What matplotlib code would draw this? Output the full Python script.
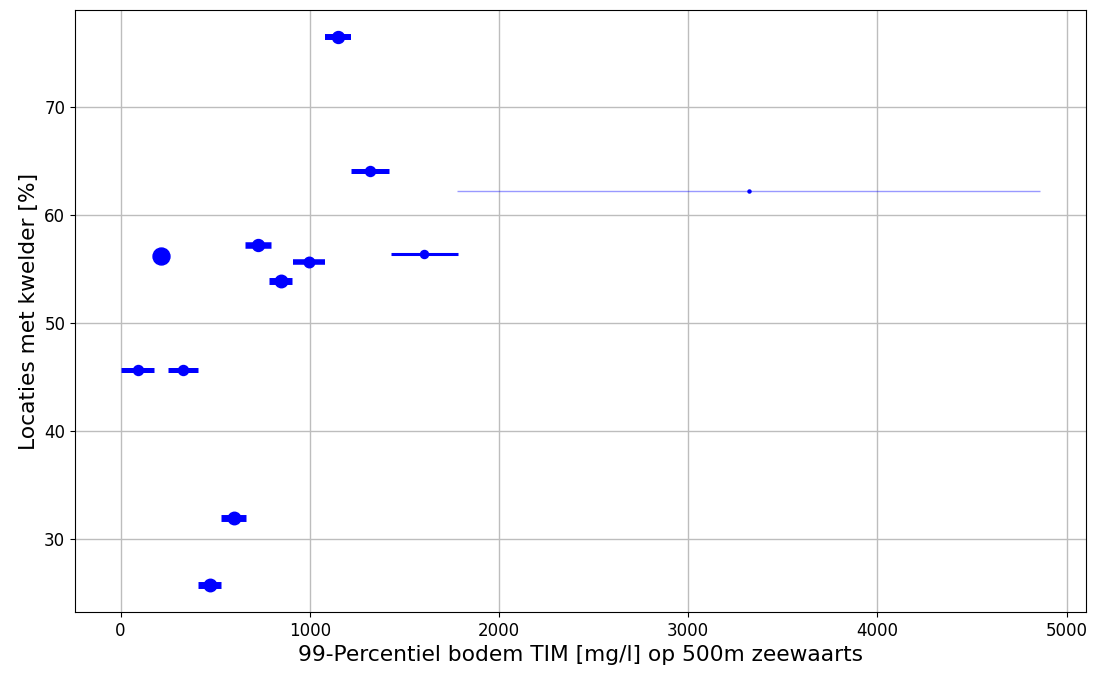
import matplotlib
matplotlib.use("Agg")
import matplotlib.pyplot as plt

# data
tim_p99 = [1150, 1318, 3320, 215, 725, 995, 847, 1605, 90, 330, 598, 471]
tim_err = [70, 100, 1540, 0, 68, 85, 60, 177, 88, 80, 66, 60]
kwelder_pct = [76.4, 64.0, 62.2, 56.2, 57.2, 55.6, 53.9, 56.4, 45.6, 45.6, 32.0, 25.8]

# per-point styling (derived from the picture)
marker_sizes = [8.6, 7.2, 2.2, 12.2, 8.6, 7.6, 9.0, 5.8, 7.2, 7.2, 9.0, 9.0]
line_widths = [4.3, 3.6, 1.0, 0.0, 4.7, 4.0, 5.0, 2.2, 3.6, 3.6, 5.0, 5.0]
bar_alpha = [1, 1, 0.4, 1, 1, 1, 1, 1, 1, 1, 1, 1]

fig = plt.figure(figsize=(11.05, 6.74), dpi=100)
ax = fig.add_axes([75 / 1105, 1 - 612 / 674, (1086 - 75) / 1105, (612 - 10) / 674])

for x, xe, y, ms, lw, a in zip(tim_p99, tim_err, kwelder_pct, marker_sizes, line_widths, bar_alpha):
    if xe > 0:
        ax.plot([x - xe, x + xe], [y, y], color='blue', linewidth=lw, alpha=a,
                solid_capstyle='butt', zorder=2)
    ax.plot([x], [y], 'o', color='blue', markersize=ms, zorder=3)

ax.grid(True, color='#bdbdbd', linewidth=1.0)
ax.set_axisbelow(True)
ax.tick_params(labelsize=12)
ax.set_xlabel('99-Percentiel bodem TIM [mg/l] op 500m zeewaarts', fontsize=15.7)
ax.set_ylabel('Locaties met kwelder [%]', fontsize=15.7)
ax.set_xticks([0, 1000, 2000, 3000, 4000, 5000])
ax.set_yticks([30, 40, 50, 60, 70])

fig.savefig('out.png', dpi=100)
